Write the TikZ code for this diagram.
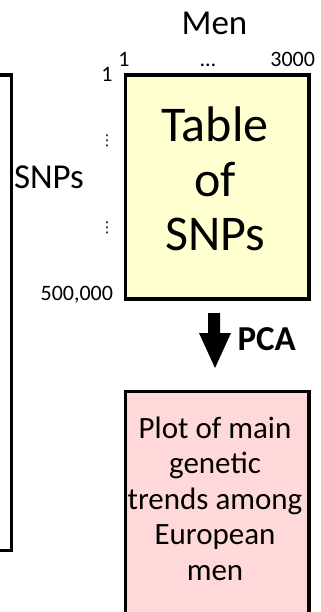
\documentclass[tikz,border=0pt]{standalone}
\usepackage{fontspec}
\setmainfont{Carlito}
\newfontfamily\symfont{DejaVu Sans}
\definecolor{tableyellow}{HTML}{FFFFD0}
\definecolor{plotpink}{HTML}{FFD9DA}
\begin{document}
\begin{tikzpicture}[x=1bp,y=-1bp,
  boxline/.style={line width=3.5bp,line join=miter},
  lbl/.style={inner sep=0pt,outer sep=0pt},
  smallnum/.style={lbl,font=\fontsize{22bp}{26bp}\selectfont},
  midtext/.style={lbl,font=\fontsize{35bp}{40bp}\selectfont},
  vdotlbl/.style={lbl,font=\symfont\fontsize{15bp}{18bp}\selectfont},
]
\useasboundingbox (0,0) rectangle (320,612);
\clip (0,0) rectangle (320,612);
% left bracket
\draw[boxline] (0,75) -- (11.5,75) -- (11.5,550.5) -- (0,550.5);
% table box
\node[draw,boxline,fill=tableyellow,minimum width=183.5bp,minimum height=223.5bp,inner sep=0pt,anchor=north west] (table) at (123.5,73.5) {};
\node[lbl,align=center,anchor=base,font=\fontsize{50bp}{54bp}\selectfont] (tabletext) at (215,250) {Table\\of\\SNPs};
% labels
\node[midtext,anchor=base] (men) at (214.5,35) {Men};
\node[smallnum,anchor=base] (c1) at (124,66.7) {1};
\node[smallnum,anchor=base] (cdots) at (208,66.7) {…};
\node[smallnum,anchor=base east] (c3000) at (315,66.7) {3000};
\node[smallnum,anchor=base] (r1) at (107,82) {1};
\node[vdotlbl,anchor=center] (rv1) at (107,141) {⋮};
\node[vdotlbl,anchor=center] (rv2) at (107,228) {⋮};
\node[smallnum,anchor=base east] (r500) at (113,300) {500,000};
\node[midtext,anchor=base west] (snps) at (14,188) {SNPs};
% PCA arrow
\fill[black] (208,313) -- (220,313) -- (220,333) -- (231,333) -- (215,368) -- (199,333) -- (208,333) -- cycle;
\coordinate (arrowtip) at (215,368);
\node[lbl,anchor=base west,font=\fontsize{35bp}{40bp}\selectfont\bfseries] (pca) at (237.5,350) {PCA};
% plot box
\node[draw,boxline,fill=plotpink,minimum width=183.5bp,minimum height=240bp,inner sep=0pt,anchor=north west] (plot) at (123.5,389.5) {};
\node[lbl,align=center,anchor=base,font=\fontsize{31bp}{35.5bp}\selectfont] (plottext) at (215,580) {Plot of main\\genetic\\trends among\\European\\men};
\end{tikzpicture}
\end{document}
